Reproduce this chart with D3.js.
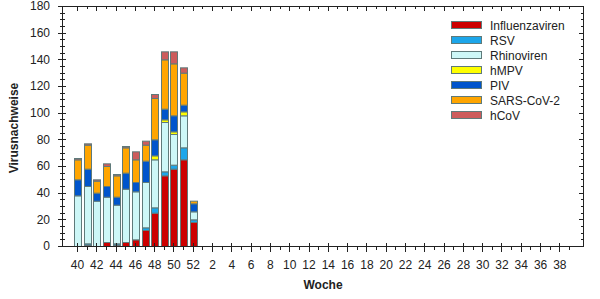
<!DOCTYPE html>
<html>
<head>
<meta charset="utf-8">
<script src="https://cdn.jsdelivr.net/npm/d3@7"></script>
<style>
  body { margin: 0; background: #fff; }
  svg { font-family: "Liberation Sans", Arial, sans-serif; }
</style>
</head>
<body>
<div id="chart"></div>
<script>
// Kalenderwochen der Saison (40..52, 1..39)
var weeks = [40, 41, 42, 43, 44, 45, 46, 47, 48, 49, 50, 51, 52,
  1, 2, 3, 4, 5, 6, 7, 8, 9, 10, 11, 12, 13, 14, 15, 16, 17, 18, 19, 20,
  21, 22, 23, 24, 25, 26, 27, 28, 29, 30, 31, 32, 33, 34, 35, 36, 37, 38, 39];

// Werte fuer KW 40..52
var influenza = [0, 1, 0, 3, 1, 3, 5, 12, 25, 53, 58, 65, 18];
var rsv       = [0, 1, 0, 0, 1, 0, 0, 2, 4, 3, 3, 9, 2];
var rhino     = [38, 43, 34, 34, 29, 40, 36, 34, 36, 37, 23, 24, 6];
var hmpv      = [0, 0, 0, 0, 0, 0, 0, 0, 3, 2, 2, 3, 0];
var piv       = [12, 13, 6, 8, 6, 12, 7, 16, 12, 8, 12, 5, 6];
var sars      = [15, 18, 9, 15, 16, 19, 17, 12, 31, 37, 39, 24, 2];
var hcov      = [1, 1, 1, 2, 1, 1, 6, 3, 3, 6, 9, 4, 0];

var seriesNames = ['Influenzaviren', 'RSV', 'Rhinoviren', 'hMPV', 'PIV', 'SARS-CoV-2', 'hCoV'];
var seriesValues = [influenza, rsv, rhino, hmpv, piv, sars, hcov];
var seriesColors = ['#cc0000', '#1ca6ea', '#cdf7f7', '#ffff00', '#0055cc', '#ffa500', '#cd5c5c'];

var yTicks = [0, 20, 40, 60, 80, 100, 120, 140, 160, 180];

var W = 600, H = 299;
var LEFT = 62, RIGHT = 583, TOP = 6, BOTTOM = 246;
var STROKE = '#5f7a7a';

var svg = d3.select('#chart').append('svg')
  .attr('width', W).attr('height', H);

var x = d3.scaleLinear().domain([0, weeks.length - 1]).range([77, 569]);
var y = d3.scaleLinear().domain([0, 180]).range([BOTTOM, TOP]);

// stacked rows
var rows = influenza.map(function (v, i) {
  var r = { idx: i };
  seriesNames.forEach(function (n, k) { r[n] = seriesValues[k][i]; });
  return r;
});
var stack = d3.stack().keys(seriesNames)(rows);

var BAR_W = 7;
var bars = svg.append('g');
stack.forEach(function (layer, k) {
  bars.selectAll(null)
    .data(layer.filter(function (d) { return d[1] > d[0]; }))
    .enter().append('rect')
    .attr('x', function (d) { return Math.round(x(d.data.idx)) - 2.5; })
    .attr('width', BAR_W)
    .attr('y', function (d) { return y(d[1]) + 0.5; })
    .attr('height', function (d) { return Math.max(0.5, y(d[0]) - y(d[1])); })
    .attr('fill', seriesColors[k])
    .attr('stroke', STROKE)
    .attr('stroke-width', 1);
});

// frame
svg.append('rect')
  .attr('x', LEFT + 0.5).attr('y', TOP + 0.5)
  .attr('width', RIGHT - LEFT).attr('height', BOTTOM - TOP)
  .attr('fill', 'none').attr('stroke', '#222').attr('stroke-width', 1);

// y axis
var yMinor = d3.range(0, 181, 5);
svg.append('g').selectAll('line').data(yMinor).enter().append('line')
  .attr('x1', function (d) { return d % 20 === 0 ? LEFT - 4 : LEFT - 2; })
  .attr('x2', function (d) { return d % 20 === 0 ? LEFT + 4 : LEFT + 3; })
  .attr('y1', function (d) { return Math.round(y(d)) + 0.5; })
  .attr('y2', function (d) { return Math.round(y(d)) + 0.5; })
  .attr('stroke', '#222');
// right mirror ticks
svg.append('g').selectAll('line').data(yMinor).enter().append('line')
  .attr('x1', RIGHT + 0.5)
  .attr('x2', function (d) { return d % 20 === 0 ? RIGHT - 4 : RIGHT - 2; })
  .attr('y1', function (d) { return Math.round(y(d)) + 0.5; })
  .attr('y2', function (d) { return Math.round(y(d)) + 0.5; })
  .attr('stroke', '#222');

var yAxis = d3.axisLeft(y).tickValues(yTicks).tickSize(0).tickPadding(12);
var gy = svg.append('g').attr('transform', 'translate(' + LEFT + ',0)').call(yAxis);
gy.select('.domain').remove();
gy.selectAll('text').attr('font-size', 12).attr('fill', '#222')
  .attr('font-family', '"Liberation Sans", Arial, sans-serif');

// x axis
var idx = d3.range(weeks.length);
svg.append('g').selectAll('line').data(idx).enter().append('line')
  .attr('x1', function (i) { return Math.round(x(i)) + 0.5; })
  .attr('x2', function (i) { return Math.round(x(i)) + 0.5; })
  .attr('y1', function (i) { return weeks[i] % 2 === 0 ? BOTTOM - 3 : BOTTOM; })
  .attr('y2', function (i) { return weeks[i] % 2 === 0 ? BOTTOM + 6 : BOTTOM + 4; })
  .attr('stroke', '#222');
// top mirror ticks
svg.append('g').selectAll('line').data(idx).enter().append('line')
  .attr('x1', function (i) { return Math.round(x(i)) + 0.5; })
  .attr('x2', function (i) { return Math.round(x(i)) + 0.5; })
  .attr('y1', TOP + 0.5)
  .attr('y2', function (i) { return weeks[i] % 2 === 0 ? TOP + 5 : TOP + 3; })
  .attr('stroke', '#222');

var majorIdx = idx.filter(function (i) { return weeks[i] % 2 === 0; });
var xAxis = d3.axisBottom(x).tickValues(majorIdx)
  .tickFormat(function (i) { return weeks[i]; })
  .tickSize(0).tickPadding(14);
var gx = svg.append('g').attr('transform', 'translate(0,' + BOTTOM + ')').call(xAxis);
gx.select('.domain').remove();
gx.selectAll('text').attr('font-size', 12).attr('fill', '#222')
  .attr('font-family', '"Liberation Sans", Arial, sans-serif');

// axis titles
svg.append('text')
  .attr('transform', 'translate(18,128) rotate(-90)')
  .attr('text-anchor', 'middle')
  .attr('font-size', 12).attr('font-weight', 'bold').attr('fill', '#222')
  .text('Virusnachweise');
svg.append('text')
  .attr('x', 323).attr('y', 289)
  .attr('text-anchor', 'middle')
  .attr('font-size', 12).attr('font-weight', 'bold').attr('fill', '#222')
  .text('Woche');

// legend
var legend = svg.append('g');
seriesNames.forEach(function (n, k) {
  var ly = 25 + k * 15;
  legend.append('rect')
    .attr('x', 451.5).attr('y', ly - 3.5)
    .attr('width', 30).attr('height', 7)
    .attr('fill', seriesColors[k]).attr('stroke', STROKE);
  legend.append('text')
    .attr('x', 490).attr('y', ly + 4.5)
    .attr('font-size', 12).attr('fill', '#222')
    .text(n);
});
</script>
</body>
</html>
